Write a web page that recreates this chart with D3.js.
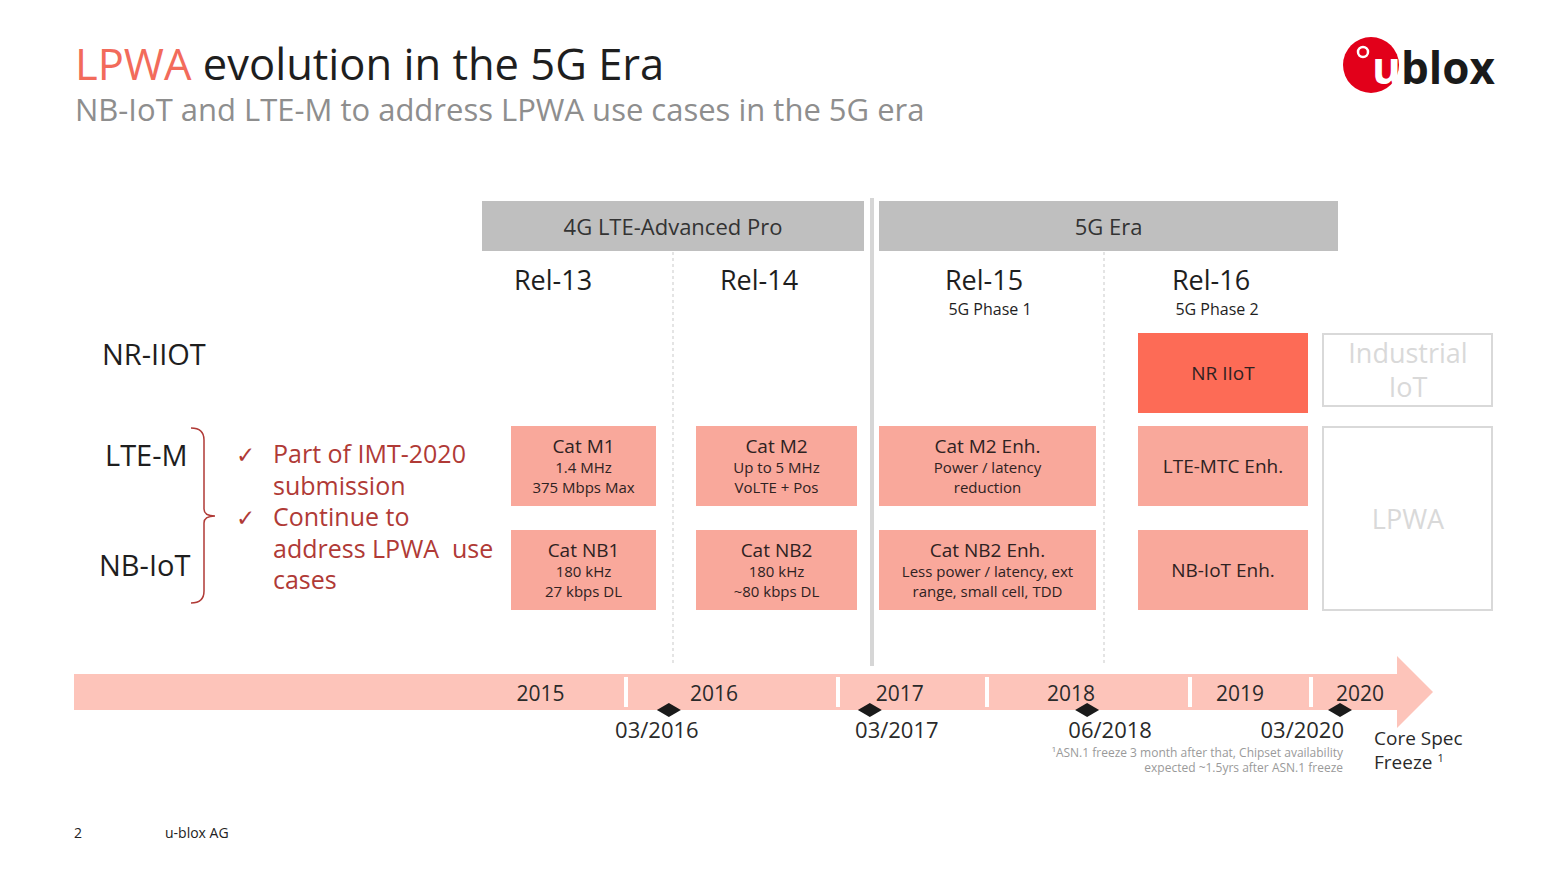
<!DOCTYPE html>
<html><head><meta charset="utf-8">
<script src="https://cdn.jsdelivr.net/npm/d3@7"></script>
<style>
body{margin:0;background:#fff}
svg{display:block}
text{font-family:"Open Sans","Noto Sans",sans-serif;white-space:pre}
</style>
</head><body>
<svg id="c" width="1565" height="880"></svg>
<script>
// ---------------- DATA ----------------
const titleAccent = "LPWA";
const titleRest = " evolution in the 5G Era";
const subtitle = "NB-IoT and LTE-M to address LPWA use cases in the 5G era";
const eras = ["4G LTE-Advanced Pro", "5G Era"];
const releases = ["Rel-13", "Rel-14", "Rel-15", "Rel-16"];
const releaseSubs = ["", "", "5G Phase 1", "5G Phase 2"];
const rows = ["NR-IIOT", "LTE-M", "NB-IoT"];
const features = [
  {rel: "Rel-13", row: "LTE-M",  title: "Cat M1",       lines: ["1.4 MHz", "375 Mbps Max"]},
  {rel: "Rel-13", row: "NB-IoT", title: "Cat NB1",      lines: ["180 kHz", "27 kbps DL"]},
  {rel: "Rel-14", row: "LTE-M",  title: "Cat M2",       lines: ["Up to 5 MHz", "VoLTE + Pos"]},
  {rel: "Rel-14", row: "NB-IoT", title: "Cat NB2",      lines: ["180 kHz", "~80 kbps DL"]},
  {rel: "Rel-15", row: "LTE-M",  title: "Cat M2 Enh.",  lines: ["Power / latency", "reduction"]},
  {rel: "Rel-15", row: "NB-IoT", title: "Cat NB2 Enh.", lines: ["Less power / latency, ext", "range, small cell, TDD"]},
  {rel: "Rel-16", row: "NR-IIOT", title: "NR IIoT",     lines: [], strong: true},
  {rel: "Rel-16", row: "LTE-M",  title: "LTE-MTC Enh.", lines: []},
  {rel: "Rel-16", row: "NB-IoT", title: "NB-IoT Enh.",  lines: []}
];
const outlook = [
  {rows: ["NR-IIOT"], lines: ["Industrial", "IoT"]},
  {rows: ["LTE-M", "NB-IoT"], lines: ["LPWA"]}
];
const checkItems = [["Part of IMT-2020", "submission"], ["Continue to", "address LPWA  use", "cases"]];
const years = [2015, 2016, 2017, 2018, 2019, 2020];
const milestones = [
  {date: "2016-03-15", label: "03/2016"},
  {date: "2017-03-20", label: "03/2017"},
  {date: "2018-06-30", label: "06/2018"},
  {date: "2020-03-31", label: "03/2020"}
];
const footnote = ["\u00B9ASN.1 freeze 3 month after that, Chipset availability", "expected ~1.5yrs after ASN.1 freeze"];
const freezeLabel = ["Core Spec", "Freeze"];
const footer = {page: "2", company: "u-blox AG"};

// ---------------- LAYOUT ----------------
const svg = d3.select("#c");
const C = {
  accent: "#f26b5b", dark: "#1e1e1e", grey: "#8e8e8e", bar: "#bfbfbf",
  box: "#f9a89b", boxStrong: "#fd6b56", boxText: "#2e2222",
  red: "#b03a36", band: "#fdc4ba", light: "#d9d9d9"
};

// title
const t = svg.append("text").attr("x", 75).attr("y", 80).attr("font-size", 43.5);
t.append("tspan").attr("fill", C.accent).text(titleAccent);
t.append("tspan").attr("fill", C.dark).text(titleRest);
svg.append("text").attr("x", 75).attr("y", 121).attr("font-size", 31).attr("fill", C.grey).text(subtitle);

// logo
const logo = svg.append("g");
logo.append("circle").attr("cx", 1371).attr("cy", 65).attr("r", 28).attr("fill", "#e2001a");
logo.append("circle").attr("cx", 1363).attr("cy", 52).attr("r", 5).attr("fill", "#e2001a").attr("stroke", "#fff").attr("stroke-width", 2.5);
const lt = logo.append("text").attr("x", 1372).attr("y", 84).attr("font-size", 44).attr("font-weight", 700)
  .attr("font-family", "Lato, sans-serif");
lt.append("tspan").attr("fill", "#fff").text("u");
lt.append("tspan").attr("fill", "#1a1a1a").text("blox");

// era bars
const eraX = [[482, 864], [879, 1338]];
eras.forEach((e, i) => {
  svg.append("rect").attr("x", eraX[i][0]).attr("y", 201).attr("width", eraX[i][1] - eraX[i][0]).attr("height", 50).attr("fill", C.bar);
  svg.append("text").attr("x", (eraX[i][0] + eraX[i][1]) / 2).attr("y", 235).attr("text-anchor", "middle")
    .attr("font-size", 22).attr("fill", "#333").text(e);
});

// dividers
svg.append("rect").attr("x", 870).attr("y", 198).attr("width", 4).attr("height", 468).attr("fill", "#d6d6d6");
[673, 1104].forEach(x => svg.append("line").attr("x1", x).attr("x2", x).attr("y1", 252).attr("y2", 665)
  .attr("stroke", "#c9c9c9").attr("stroke-width", 1).attr("stroke-dasharray", "3,3"));

// release labels
const relLabelX = d3.scaleOrdinal(releases, [553, 759, 984, 1211]);
releases.forEach((r, i) => {
  svg.append("text").attr("x", relLabelX(r)).attr("y", 290).attr("text-anchor", "middle").attr("font-size", 27).attr("fill", C.dark).text(r);
  if (releaseSubs[i]) svg.append("text").attr("x", relLabelX(r) + 6).attr("y", 315).attr("text-anchor", "middle").attr("font-size", 16).attr("fill", C.dark).text(releaseSubs[i]);
});

// row positions
const rowTop = d3.scaleOrdinal(rows, [333, 426, 530]);
const rowH = 80;
const boxX = d3.scaleOrdinal(releases, [[511, 656], [696, 857], [879, 1096], [1138, 1308]]);
const rowLabelPos = d3.scaleOrdinal(rows, [[102, 365], [105, 466], [99, 576]]);
rows.forEach(r => {
  svg.append("text").attr("x", rowLabelPos(r)[0]).attr("y", rowLabelPos(r)[1])
    .attr("font-size", 29).attr("fill", C.dark).text(r);
});

// feature boxes
const fg = svg.append("g").selectAll("g").data(features).join("g");
fg.append("rect")
  .attr("x", d => boxX(d.rel)[0]).attr("width", d => boxX(d.rel)[1] - boxX(d.rel)[0])
  .attr("y", d => rowTop(d.row)).attr("height", rowH)
  .attr("fill", d => d.strong ? C.boxStrong : C.box);
fg.each(function (d) {
  const g = d3.select(this);
  const cx = (boxX(d.rel)[0] + boxX(d.rel)[1]) / 2;
  const cy = rowTop(d.row) + rowH / 2;
  const n = 1 + d.lines.length;
  const y0 = cy - (n - 1) * 10 + 7;
  g.append("text").attr("x", cx).attr("y", y0).attr("text-anchor", "middle")
    .attr("font-size", 19).attr("fill", C.boxText).text(d.title);
  d.lines.forEach((l, i) => g.append("text").attr("x", cx).attr("y", y0 + 20 * (i + 1)).attr("text-anchor", "middle")
    .attr("font-size", 15).attr("fill", C.boxText).text(l));
});

// outlook boxes
outlook.forEach(o => {
  const y1 = rowTop(o.rows[0]) + 1, y2 = rowTop(o.rows[o.rows.length - 1]) + rowH - (o.rows.length === 1 ? 7 : 0);
  svg.append("rect").attr("x", 1323).attr("y", y1).attr("width", 169).attr("height", y2 - y1)
    .attr("fill", "none").attr("stroke", C.light).attr("stroke-width", 2);
  const cy = (y1 + y2) / 2;
  o.lines.forEach((l, i) => svg.append("text").attr("x", 1408).attr("y", cy + 10 + (i - (o.lines.length - 1) / 2) * 34)
    .attr("text-anchor", "middle").attr("font-size", 27).attr("fill", C.light).text(l));
});

// bracket
svg.append("path")
  .attr("d", "M191,428 Q204,428 204,440 L204,509 Q204,516 215,516 Q204,516 204,523 L204,591 Q204,603 191,603")
  .attr("fill", "none").attr("stroke", C.red).attr("stroke-width", 1.5);

// check items
let line = 0;
checkItems.forEach(item => {
  svg.append("text").attr("x", 236).attr("y", 463 + line * 31.5).attr("font-size", 23).attr("fill", C.red).text("\u2713");
  item.forEach(s => {
    svg.append("text").attr("x", 273).attr("y", 463 + line * 31.5).attr("font-size", 25).attr("fill", C.red).text(s);
    line++;
  });
});

// timeline
const yearDates = years.concat([years[years.length - 1] + 1]).map(y => new Date(y, 0, 1));
const tl = d3.scaleTime().domain(yearDates).range([480, 626, 838, 987, 1190, 1311, 1429]);
svg.append("path")
  .attr("d", `M74,674 L1397,674 L1397,656 L1433,692 L1397,728 L1397,710 L74,710 Z`)
  .attr("fill", C.band);
years.slice(1).forEach(y => svg.append("rect").attr("x", tl(new Date(y, 0, 1)) - 2).attr("y", 677).attr("width", 4).attr("height", 30).attr("fill", "#fff"));
years.forEach(y => svg.append("text").attr("x", tl(new Date(y, 5, 1))).attr("y", 701).attr("text-anchor", "middle")
  .attr("font-size", 21).attr("fill", "#2a2a2a").text(y));

const parse = d3.timeParse("%Y-%m-%d");
const labelDx = [-12, 27, 23, 4];
milestones.forEach((m, i) => {
  const x = tl(parse(m.date));
  svg.append("path").attr("d", `M${x - 12},710 L${x},703 L${x + 12},710 L${x},717 Z`).attr("fill", "#1a1a1a");
  const last = i === milestones.length - 1;
  svg.append("text").attr("x", x + labelDx[i]).attr("y", 738).attr("text-anchor", last ? "end" : "middle")
    .attr("font-size", 22).attr("fill", "#2a2a2a").text(m.label);
});
footnote.forEach((f, i) => svg.append("text").attr("x", 1343).attr("y", 757 + i * 15).attr("text-anchor", "end")
  .attr("font-size", 12).attr("fill", "#9a9a9a").text(f));
svg.append("text").attr("x", 1374).attr("y", 745).attr("font-size", 19).attr("fill", "#2a2a2a").text(freezeLabel[0]);
const fz = svg.append("text").attr("x", 1374).attr("y", 769).attr("font-size", 19).attr("fill", "#2a2a2a");
fz.append("tspan").text(freezeLabel[1]);
fz.append("tspan").attr("font-size", 11).attr("dx", 5).attr("dy", -7).text("1");

// footer
svg.append("text").attr("x", 74).attr("y", 838).attr("font-size", 14).attr("fill", "#222").text(footer.page);
svg.append("text").attr("x", 165).attr("y", 838).attr("font-size", 14).attr("fill", "#222").text(footer.company);
</script>
</body></html>
